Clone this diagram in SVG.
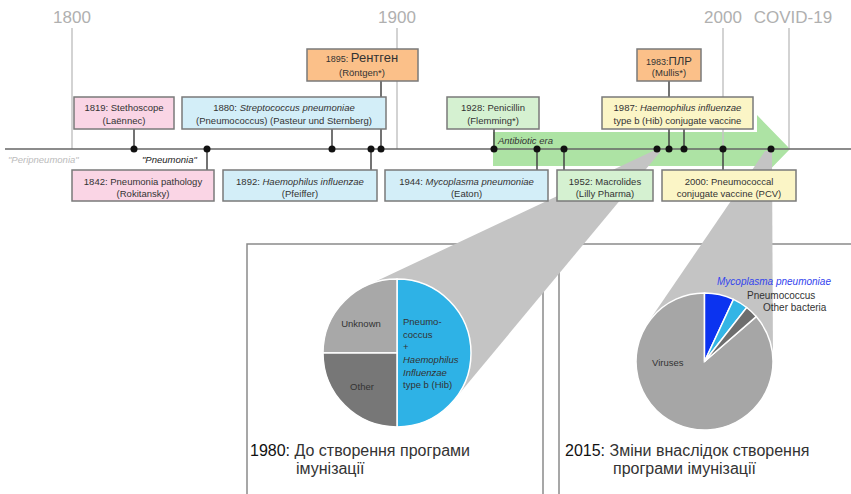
<svg xmlns="http://www.w3.org/2000/svg" width="851" height="494" viewBox="0 0 851 494">
<style>
text{font-family:"Liberation Sans",Arial,sans-serif;fill:#333}
.yr{font-size:17px;fill:#b0b0b0;text-anchor:middle}
.tick{stroke:#c4c4c4;stroke-width:1.5}
.frame{stroke:#8a8a8a;stroke-width:1.5;fill:none}
.bx{stroke:#7a7a7a;stroke-width:1.5}
.pink{fill:#fad5e5}.blue{fill:#d3eef8}.orange{fill:#fbc089}.green{fill:#d5f1d1}.yellow{fill:#fbf5c6}
.t{font-size:9.5px;text-anchor:middle}
.i{font-style:italic}
.con{stroke:#444;stroke-width:1.5}
.dot{fill:#111}
.wedge{fill:#c4c4c4}
.sl{stroke:#fff;stroke-width:1.5}
.pl{font-size:9.5px}
.cap{font-size:16px;fill:#333}
.capy{font-size:16px;fill:#111}
</style>
<rect width="851" height="494" fill="#fff"/>

<g id="panels">
<polyline class="frame" points="247,494 247,244 543,244 543,494"/>
<polyline class="frame" points="559,494 559,244 851,244"/>
</g>

<g id="antibiotic-era">
<polygon fill="#ade3a4" points="493,132 757,132 757,115 790,149 757,183 757,166 493,166"/>
<text x="498" y="144" class="pl i">Antibiotic era</text>
</g>

<g id="timeline-years">
<line class="tick" x1="72" y1="28" x2="72" y2="149"/>
<line class="tick" x1="397" y1="28" x2="397" y2="149"/>
<line class="tick" x1="723" y1="28" x2="723" y2="149"/>
<line class="tick" x1="789" y1="28" x2="789" y2="149"/>
<text class="yr" x="72" y="23">1800</text>
<text class="yr" x="397" y="23">1900</text>
<text class="yr" x="723" y="23">2000</text>
<text class="yr" x="793" y="23">COVID-19</text>
</g>

<g id="wedges">
<polygon class="wedge" points="653,151 661,151 454,400 397,353 366,286"/>
<polygon class="wedge" points="765,151 772,151 773,361.5 704.5,361.5 648,322.6"/>
</g>

<g id="pie-1980">
<path class="sl" fill="#2eb2e6" d="M397,353 L397,279 A74,74 0 0 1 397,427 Z"/>
<path class="sl" fill="#a8a8a8" d="M397,353 L323,353 A74,74 0 0 1 397,279 Z"/>
<path class="sl" fill="#777" d="M397,353 L397,427 A74,74 0 0 1 323,353 Z"/>
<text class="pl" x="361" y="326.5" text-anchor="middle">Unknown</text>
<text class="pl" x="362" y="389.5" text-anchor="middle">Other</text>
<text class="pl" x="403" y="325">Pneumo-</text>
<text class="pl" x="403" y="338">coccus</text>
<text class="pl" x="403" y="350">+</text>
<text class="pl i" x="403" y="363">Haemophilus</text>
<text class="pl i" x="403" y="376">Influenzae</text>
<text class="pl" x="403" y="388">type b (Hib)</text>
</g>

<g id="pie-2015">
<path class="sl" fill="#a6a6a6" d="M704.5,361.5 L756.2,316.56 A68.5,68.5 0 1 1 704.5,293 Z"/>
<path class="sl" fill="#0b33f0" d="M704.5,361.5 L704.5,293 A68.5,68.5 0 0 1 733.45,299.42 Z"/>
<path class="sl" fill="#33b5e5" d="M704.5,361.5 L733.45,299.42 A68.5,68.5 0 0 1 746.67,307.52 Z"/>
<path class="sl" fill="#6e6e6e" d="M704.5,361.5 L746.67,307.52 A68.5,68.5 0 0 1 756.2,316.56 Z"/>
<text class="pl i" x="717" y="285" style="font-size:10px;fill:#3344ee">Mycoplasma pneumoniae</text>
<text class="pl" x="747" y="299" style="font-size:10px">Pneumococcus</text>
<text class="pl" x="763" y="311" style="font-size:10px">Other bacteria</text>
<text class="pl" x="652" y="366">Viruses</text>
</g>

<g id="captions">
<text x="250" y="456"><tspan class="capy">1980:</tspan><tspan class="cap"> До створення програми</tspan></text>
<text class="cap" x="296" y="474">імунізації</text>
<text x="565" y="456"><tspan class="capy">2015:</tspan><tspan class="cap"> Зміни внаслідок створення</tspan></text>
<text class="cap" x="613" y="474">програми імунізації</text>
</g>

<g id="axis">
<line x1="5" y1="149" x2="851" y2="149" stroke="#666" stroke-width="1.5"/>
<text x="8" y="163" class="pl i" style="fill:#bbb">"Peripneumonia"</text>
<text x="142" y="163" class="pl i" style="fill:#222">"Pneumonia"</text>
</g>

<g id="connectors">
<line class="con" x1="134" y1="129" x2="134" y2="149"/>
<line class="con" x1="207" y1="149" x2="207" y2="170"/>
<line class="con" x1="332" y1="129" x2="332" y2="149"/>
<line class="con" x1="371" y1="149" x2="371" y2="170"/>
<line class="con" x1="381" y1="81" x2="381" y2="149"/>
<line class="con" x1="494" y1="129" x2="494" y2="149"/>
<line class="con" x1="537" y1="149" x2="537" y2="170"/>
<line class="con" x1="564" y1="149" x2="564" y2="170"/>
<line class="con" x1="669" y1="81" x2="669" y2="149"/>
<line class="con" x1="684" y1="129" x2="684" y2="149"/>
<line class="con" x1="723" y1="149" x2="723" y2="170"/>
<circle class="dot" cx="134" cy="149" r="3.5"/>
<circle class="dot" cx="207" cy="149" r="3.5"/>
<circle class="dot" cx="332" cy="149" r="3.5"/>
<circle class="dot" cx="371" cy="149" r="3.5"/>
<circle class="dot" cx="381" cy="149" r="3.5"/>
<circle class="dot" cx="494" cy="149" r="3.5"/>
<circle class="dot" cx="537" cy="149" r="3.5"/>
<circle class="dot" cx="564" cy="149" r="3.5"/>
<circle class="dot" cx="657" cy="149" r="3.5"/>
<circle class="dot" cx="669" cy="149" r="3.5"/>
<circle class="dot" cx="684" cy="149" r="3.5"/>
<circle class="dot" cx="723" cy="149" r="3.5"/>
<circle class="dot" cx="771" cy="149" r="3.5"/>
</g>

<g id="n1819">
<rect class="bx pink" x="74" y="97" width="100" height="32"/>
<text class="t" x="124" y="111">1819: Stethoscope</text>
<text class="t" x="124" y="123.5">(Laënnec)</text>
</g>
<g id="n1880">
<rect class="bx blue" x="182" y="97" width="204" height="32"/>
<text class="t" x="284" y="111">1880: <tspan class="i">Streptococcus pneumoniae</tspan></text>
<text class="t" x="284" y="123.5">(Pneumococcus) (Pasteur und Sternberg)</text>
</g>
<g id="n1895">
<rect class="bx orange" x="307" y="49" width="111" height="32"/>
<text class="t" x="362" y="62"><tspan font-size="9">1895: </tspan><tspan font-size="13">Рентген</tspan></text>
<text class="t" x="362" y="75.5">(Röntgen*)</text>
</g>
<g id="n1928">
<rect class="bx green" x="447" y="97" width="92" height="32"/>
<text class="t" x="493" y="111">1928: Penicillin</text>
<text class="t" x="493" y="123.5">(Flemming*)</text>
</g>
<g id="n1983">
<rect class="bx orange" x="637" y="49" width="64" height="32"/>
<text class="t" x="669" y="64.5"><tspan font-size="9">1983:</tspan><tspan font-size="11.5">ПЛР</tspan></text>
<text class="t" x="669" y="76">(Mullis*)</text>
</g>
<g id="n1987">
<rect class="bx yellow" x="602" y="97" width="151" height="32"/>
<text class="t" x="677.5" y="111">1987: <tspan class="i">Haemophilus influenzae</tspan></text>
<text class="t" x="677.5" y="123.5">type b (Hib) conjugate vaccine</text>
</g>
<g id="n1842">
<rect class="bx pink" x="72" y="170" width="142" height="31"/>
<text class="t" x="143" y="184.5">1842: Pneumonia pathology</text>
<text class="t" x="143" y="196.5">(Rokitansky)</text>
</g>
<g id="n1892">
<rect class="bx blue" x="223" y="170" width="154" height="31"/>
<text class="t" x="300" y="184.5">1892: <tspan class="i">Haemophilus influenzae</tspan></text>
<text class="t" x="300" y="196.5">(Pfeiffer)</text>
</g>
<g id="n1944">
<rect class="bx blue" x="385" y="170" width="163" height="31"/>
<text class="t" x="466.5" y="184.5">1944: <tspan class="i">Mycoplasma pneumoniae</tspan></text>
<text class="t" x="466.5" y="196.5">(Eaton)</text>
</g>
<g id="n1952">
<rect class="bx green" x="557" y="170" width="96" height="31"/>
<text class="t" x="605" y="184.5">1952: Macrolides</text>
<text class="t" x="605" y="196.5">(Lilly Pharma)</text>
</g>
<g id="n2000">
<rect class="bx yellow" x="662" y="170" width="134" height="31"/>
<text class="t" x="729" y="184.5">2000: Pneumococcal</text>
<text class="t" x="729" y="196.5">conjugate vaccine (PCV)</text>
</g>
</svg>
